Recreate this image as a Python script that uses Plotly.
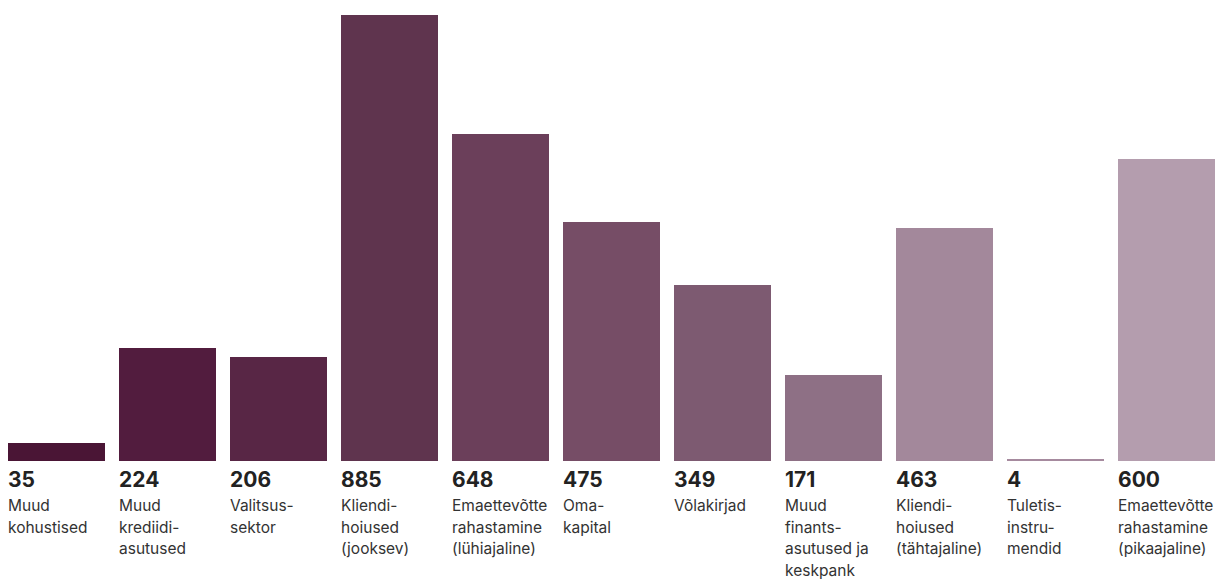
import plotly.graph_objects as go

categories = [
    "Muud<br>kohustised",
    "Muud<br>krediidi-<br>asutused",
    "Valitsus-<br>sektor",
    "Kliendi-<br>hoiused<br>(jooksev)",
    "Emaettevõtte<br>rahastamine<br>(lühiajaline)",
    "Oma-<br>kapital",
    "Võlakirjad",
    "Muud<br>finants-<br>asutused ja<br>keskpank",
    "Kliendi-<br>hoiused<br>(tähtajaline)",
    "Tuletis-<br>instru-<br>mendid",
    "Emaettevõtte<br>rahastamine<br>(pikaajaline)",
]
values = [35, 224, 206, 885, 648, 475, 349, 171, 463, 4, 600]

colors = ["#4a1535", "#521c3e", "#582645", "#5f344e", "#6b3f5a", "#764d66",
          "#7d5a71", "#8e7085", "#a3889b", "#a68a9e", "#b49dae"]

BAR_W = 0.874
xs = list(range(len(values)))

fig = go.Figure(go.Bar(
    x=xs, y=values, width=BAR_W,
    marker=dict(color=colors, line=dict(width=0)),
    hoverinfo="skip",
))

FONT = "Inter, 'Open Sans', sans-serif"
annotations = []
for i, (cat, v) in enumerate(zip(categories, values)):
    annotations.append(dict(
        x=i - BAR_W / 2, y=0, xref="x", yref="y",
        xanchor="left", yanchor="top", yshift=-4, xshift=-2,
        text=f"<b>{v}</b>", showarrow=False, align="left",
        font=dict(family=FONT, size=21, color="#222222"),
    ))
    for k, line in enumerate(cat.split("<br>")):
        annotations.append(dict(
            x=i - BAR_W / 2, y=0, xref="x", yref="y",
            xanchor="left", yanchor="top", yshift=-33 - 21.7 * k, xshift=-2,
            text=line, showarrow=False, align="left",
            font=dict(family=FONT, size=15.5, color="#333333"),
        ))

fig.update_layout(
    width=1217, height=580,
    margin=dict(l=0, r=0, t=15, b=119),
    paper_bgcolor="white", plot_bgcolor="white",
    showlegend=False,
    bargap=0,
    xaxis=dict(range=[-0.509, 10.455], visible=False, fixedrange=True),
    yaxis=dict(range=[0, 885], visible=False, fixedrange=True),
    annotations=annotations,
)

fig.write_html(
    "out.html",
    config={"displayModeBar": False},
    post_script="document.body.style.margin='0';document.body.style.overflow='hidden';",
)
